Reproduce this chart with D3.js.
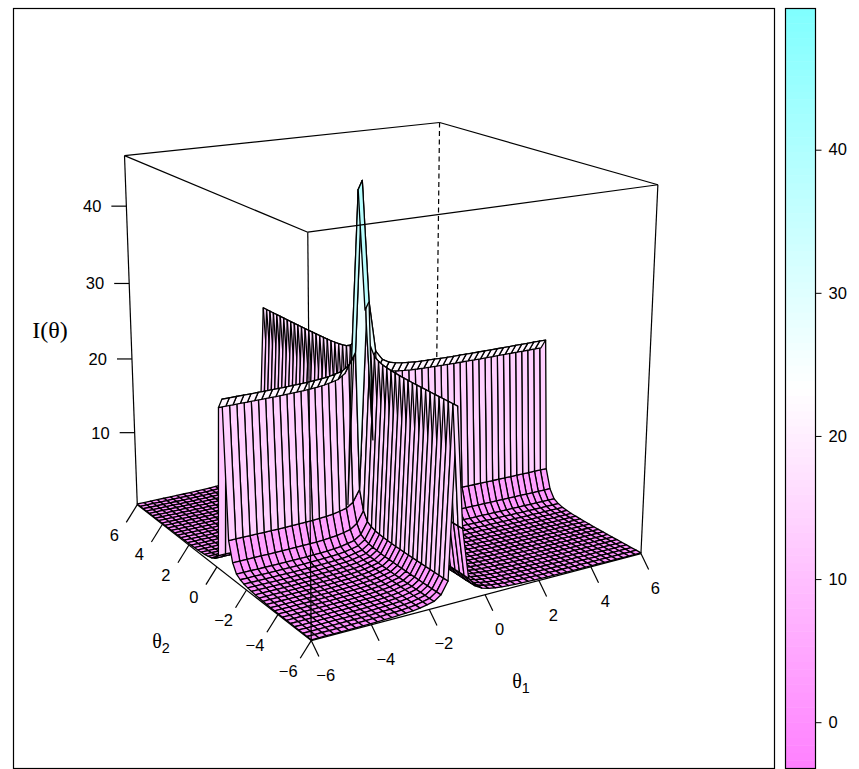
<!DOCTYPE html>
<html><head><meta charset="utf-8">
<script src="https://cdn.jsdelivr.net/npm/d3@7"></script>
<style>html,body{margin:0;padding:0;background:#fff}svg{display:block}text{font-family:"Liberation Sans",sans-serif;fill:#000}</style>
</head><body><svg id="c" width="859" height="769"></svg>
<script>
// ---- data ----
const thetaGrid=[-6,-5.755,-5.51,-5.265,-5.02,-4.776,-4.531,-4.286,-4.041,-3.796,-3.551,-3.306,-3.061,-2.816,-2.571,-2.327,-2.082,-1.837,-1.592,-1.347,-1.102,-0.857,-0.612,-0.367,-0.122,0.122,0.367,0.612,0.857,1.102,1.347,1.592,1.837,2.082,2.327,2.571,2.816,3.061,3.306,3.551,3.796,4.041,4.286,4.531,4.776,5.02,5.265,5.51,5.755,6];
// I(theta) contribution along theta1 (ridge running along theta2)
const ridgeTheta1=[.05,.05,.06,.06,.07,.07,.08,.09,.1,.12,.14,.17,.2,.25,.32,.42,.6,.8,1.4,2.9,24,9,2.6,1.4,.9,.65,.5,.4,.32,.27,.23,.2,.17,.15,.13,.12,.11,.1,.09,.08,.08,.07,.07,.06,.06,.05,.05,.05,.05,.05];
// I(theta) contribution along theta2 (ridge running along theta1)
const ridgeTheta2=[.05,.05,.05,.06,.06,.07,.07,.08,.09,.1,.11,.13,.15,.18,.22,.27,.35,.45,.65,1.0,2.1,4.6,22,20.7,1.6,.9,.6,.45,.35,.28,.23,.2,.17,.15,.13,.12,.11,.1,.09,.08,.08,.07,.07,.06,.06,.06,.05,.05,.05,.05];
const thetaTicks=[-6,-4,-2,0,2,4,6];
const zTicks=[10,20,30,40];
const barTicks=[0,10,20,30,40];
const zBox=[0,46.4];
const barRange=[-3.2,49.9];
const barLevels=100;
// ---- layout ----
const svg=d3.select("#c");
const corners=[ // theta1,theta2,z -> pixel of the perspective box
 [-6,-6,0,311,640],[6,-6,0,640,555],[-6,6,0,137,505],[6,6,0,437,441],
 [-6,-6,1,309,232],[6,-6,1,658,184],[-6,6,1,124,156],[6,6,1,439,123]];
const sx=d3.scaleLinear().domain([-6,6]).range([-1,1]);
const sz=d3.scaleLinear().domain(zBox).range([-1,1]);
function solve(A,b){const n=b.length,M=A.map((r,i)=>[...r,b[i]]);
 for(let i=0;i<n;i++){let p=i;for(let k=i+1;k<n;k++)if(Math.abs(M[k][i])>Math.abs(M[p][i]))p=k;[M[i],M[p]]=[M[p],M[i]];
  for(let k=0;k<n;k++){if(k===i)continue;const f=M[k][i]/M[i][i];for(let j=i;j<=n;j++)M[k][j]-=f*M[i][j];}}
 return M.map((r,i)=>r[n]/r[i]);}
const H=(()=>{const rows=[],rhs=[];
 corners.forEach(c=>{const X=sx(c[0]),Y=sx(c[1]),Z=c[2]*2-1,u=c[3],v=c[4];
  rows.push([X,Y,Z,1,0,0,0,0,-u*X,-u*Y,-u*Z]);rhs.push(u);
  rows.push([0,0,0,0,X,Y,Z,1,-v*X,-v*Y,-v*Z]);rhs.push(v);});
 const AtA=d3.range(11).map(i=>d3.range(11).map(j=>d3.sum(rows,r=>r[i]*r[j])));
 const Atb=d3.range(11).map(i=>d3.sum(rows,(r,k)=>r[i]*rhs[k]));
 return solve(AtA,Atb);})();
function proj(t1,t2,z){const X=sx(t1),Y=sx(t2),Z=sz(z),w=H[8]*X+H[9]*Y+H[10]*Z+1;
 return {x:(H[0]*X+H[1]*Y+H[2]*Z+H[3])/w,y:(H[4]*X+H[5]*Y+H[6]*Z+H[7])/w,w};}
const mid=(barRange[0]+barRange[1])/2;
const cm=d3.scaleLinear().domain([barRange[0],mid,barRange[1]]).range(["#FF80FF","#FFFFFF","#80FFFF"]);
const level=d3.scaleQuantize().domain(barRange).range(d3.range(barLevels));
const levelValue=i=>barRange[0]+(i+.5)*(barRange[1]-barRange[0])/barLevels;
const col=z=>cm(levelValue(level(z)));
const zAt=(i,j)=>ridgeTheta1[i]+ridgeTheta2[j];
// ---- box: hidden back edge ----
const P=(a,b,c)=>{const p=proj(a,b,c);return [p.x,p.y]};
svg.append("line").datum([P(6,6,zBox[1]),P(6,6,zBox[0])]).attr("x1",d=>d[0][0]).attr("y1",d=>d[0][1]).attr("x2",d=>d[1][0]).attr("y2",d=>d[1][1]).attr("stroke","#000").attr("stroke-width",1.2).attr("stroke-dasharray","5 3.5");
[[-6,6]].forEach(([a,b])=>svg.append("path").attr("d",d3.line()([P(a,b,zBox[0]),P(a,b,zBox[1])])).attr("fill","none").attr("stroke","#000").attr("stroke-width",1.2));
// ---- surface, painted by mean depth ----
const quads=[];
for(let i=0;i<thetaGrid.length-1;i++)for(let j=0;j<thetaGrid.length-1;j++){
 const idx=[[i,j],[i+1,j],[i+1,j+1],[i,j+1]];
 const pts=idx.map(([a,b])=>proj(thetaGrid[a],thetaGrid[b],zAt(a,b)));
 quads.push({pts,depth:d3.mean(pts,p=>p.w),z:d3.mean(idx,([a,b])=>zAt(a,b))});}
quads.sort((a,b)=>b.depth-a.depth);
svg.append("g").selectAll("path").data(quads).join("path")
 .attr("d",d=>"M"+d.pts.map(p=>p.x.toFixed(2)+","+p.y.toFixed(2)).join("L")+"Z")
 .attr("fill",d=>col(d.z)).attr("stroke","#000").attr("stroke-width",1.3).attr("stroke-linejoin","round");
// ---- box front edges ----
const edges=[[[-6,-6,zBox[1]],[6,-6,zBox[1]]],[[6,-6,zBox[1]],[6,6,zBox[1]]],[[6,6,zBox[1]],[-6,6,zBox[1]]],[[-6,6,zBox[1]],[-6,-6,zBox[1]]],
 [[-6,-6,zBox[0]],[-6,-6,zBox[1]]],[[6,-6,zBox[0]],[6,-6,zBox[1]]],[[-6,6,zBox[0]],[-6,-6,zBox[0]]],[[-6,-6,zBox[0]],[6,-6,zBox[0]]]];
svg.append("g").selectAll("path").data(edges).join("path").attr("d",d=>d3.line()(d.map(e=>P(...e)))).attr("fill","none").attr("stroke","#000").attr("stroke-width",1.2);
// ---- axes ----
const ax=svg.append("g");
function tick(p,dx,dy){ax.append("line").attr("x1",p[0]).attr("y1",p[1]).attr("x2",p[0]+dx).attr("y2",p[1]+dy).attr("stroke","#000").attr("stroke-width",1.2);}
function label(x,y,s,anchor){ax.append("text").attr("x",x).attr("y",y).attr("text-anchor",anchor||"middle").attr("dominant-baseline","central").attr("font-size",16.5).text(s);}
const fmt=v=>v<0?"\u2212"+(-v):""+v;
thetaTicks.forEach(t=>{const p=P(t,-6,zBox[0]);tick(p,7.7,16);label(p[0]+14.5,p[1]+34,fmt(t));});
thetaTicks.forEach(t=>{const p=P(-6,t,zBox[0]);tick(p,-11,17.7);label(p[0]-23,p[1]+30,fmt(t));});
zTicks.forEach(t=>{const p=P(-6,6,t);tick(p,-15,0);label(p[0]-25,p[1],fmt(t),"end");});
// axis titles
function title(x,y,sub,size){const t=ax.append("text").attr("x",x).attr("y",y).attr("text-anchor","middle").style("font-family","'Liberation Serif',serif").attr("font-size",size);t.append("tspan").text("\u03b8");t.append("tspan").attr("dy",5).attr("font-size",size*.72).style("font-family","'Liberation Sans'").text(sub);}
title(161,648,"2",20);title(521,688,"1",20);
ax.append("text").attr("x",50).attr("y",338).attr("text-anchor","middle").style("font-family","'Liberation Serif',serif").attr("font-size",24).text("I(\u03b8)");
// ---- panel and colour bar ----
svg.append("rect").attr("x",13.5).attr("y",8.5).attr("width",761).attr("height",760).attr("fill","none").attr("stroke","#000").attr("stroke-width",1.2);
const yBar=d3.scaleLinear().domain(barRange).range([768,8]);
const lv=d3.range(barLevels);
svg.append("g").selectAll("rect").data(lv).join("rect").attr("x",785).attr("width",30)
 .attr("y",i=>yBar(barRange[0]+(i+1)*(barRange[1]-barRange[0])/barLevels)).attr("height",(768-8)/barLevels+.5)
 .attr("fill",i=>cm(levelValue(i)));
svg.append("rect").attr("x",785.5).attr("y",8.5).attr("width",30).attr("height",760).attr("fill","none").attr("stroke","#000").attr("stroke-width",1.2);
const bt=svg.append("g").attr("transform","translate(815.5,0)").call(d3.axisRight(yBar).tickValues(barTicks).tickSize(6).tickPadding(7));
bt.select(".domain").remove();bt.selectAll("text").attr("font-size",16.5).style("font-family","'Liberation Sans'");
</script></body></html>
